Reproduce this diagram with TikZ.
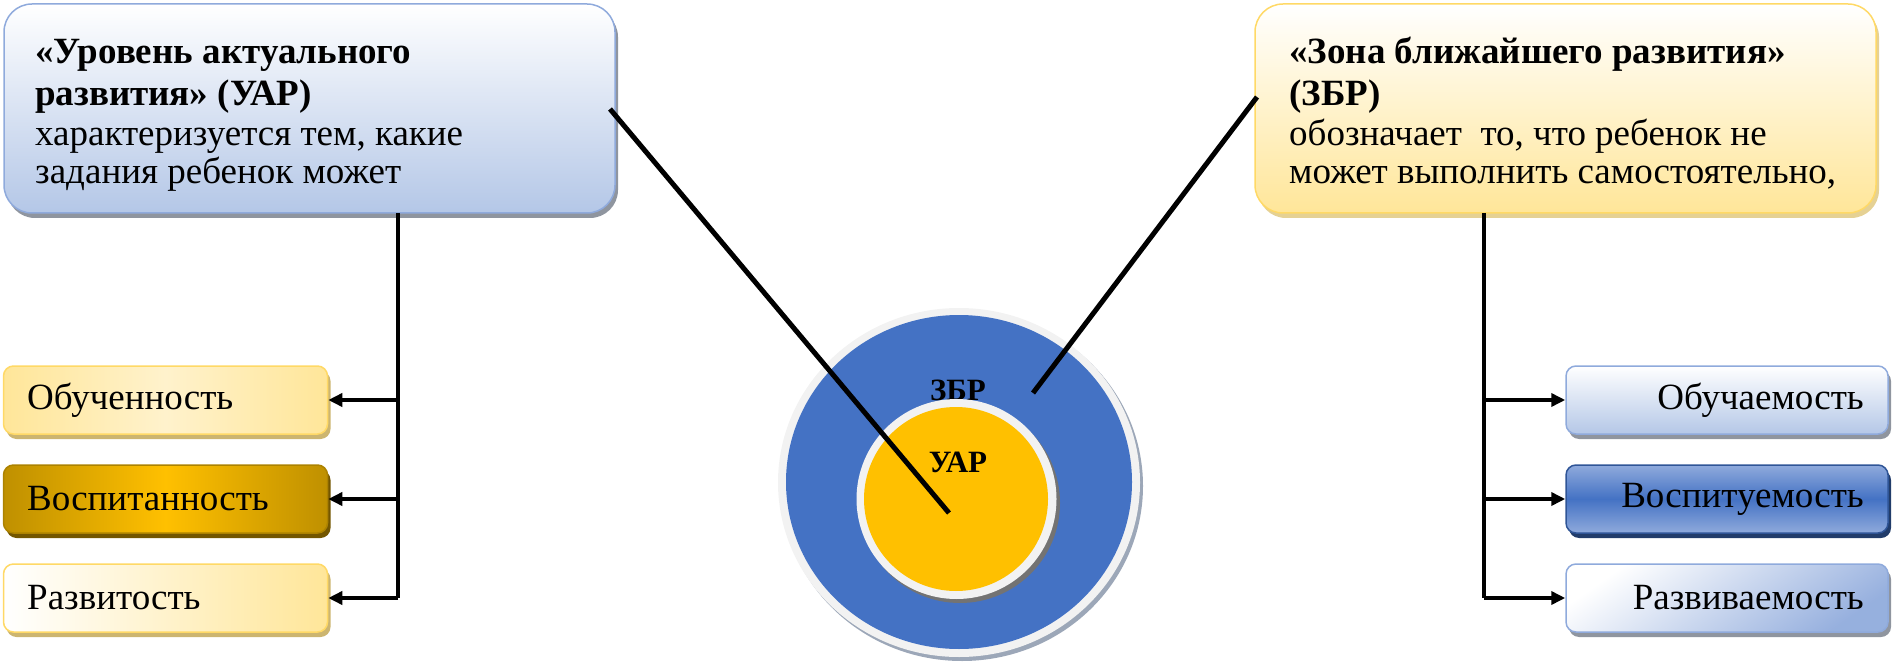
\documentclass[tikz,border=0pt]{standalone}
\usepackage{fontspec}
\setmainfont{Liberation Serif}
\usetikzlibrary{arrows.meta,shadows}
\definecolor{lblue}{HTML}{B4C7E7}
\definecolor{mblue}{HTML}{8FAADC}
\definecolor{dblue}{HTML}{4472C4}
\definecolor{nblue}{HTML}{2F5597}
\definecolor{lyel}{HTML}{FFE699}
\definecolor{pyel}{HTML}{FFF2CC}
\definecolor{myel}{HTML}{FFD966}
\definecolor{gold}{HTML}{FFC000}
\definecolor{dgold}{HTML}{BF9000}
\definecolor{ringgray}{HTML}{F2F2F2}
\begin{document}
\begin{tikzpicture}[x=1pt,y=-1pt,
  txt/.style={font=\fontsize{37}{40}\selectfont, inner sep=0pt},
  ttl/.style={font=\fontsize{37}{40}\selectfont\bfseries, inner sep=0pt},
  bigbox/.style={rounded corners=28pt, line width=1.5pt, minimum height=209pt},
  smallbox/.style={rounded corners=10pt, line width=1.5pt, minimum width=324pt, minimum height=68pt},
  shad/.style={drop shadow={shadow xshift=3pt, shadow yshift=-5pt, fill=#1, opacity=1}},
  conn/.style={line width=5pt, black},
  tree/.style={line width=3.5pt, black},
  arr/.style={line width=3.5pt, black, -{Triangle[length=14pt,width=13pt]}},
  circ/.style={font=\fontsize{31}{34}\selectfont\bfseries, inner sep=0pt}
]
\useasboundingbox (0,0) rectangle (1892,663);

% top boxes
\node[bigbox, minimum width=611pt, draw=mblue, top color=white, bottom color=lblue, shad={gray!70!lblue}] (uar) at (309.5,108.5) {};
\node[bigbox, minimum width=621pt, draw=myel, top color=white, bottom color=lyel, shad={lyel!80!gray}] (zbr) at (1565.5,108.5) {};

\node[ttl, anchor=base west] (u1) at (35,64) {«Уровень актуального};
\node[ttl, anchor=base west] (u2) at (35,106) {развития» (УАР)};
\node[txt, anchor=base west] (u3) at (35,146) {характеризуется тем, какие};
\node[txt, anchor=base west] (u4) at (35,184) {задания ребенок может};

\node[ttl, anchor=base west] (z1) at (1289,64) {«Зона ближайшего развития»};
\node[ttl, anchor=base west] (z2) at (1289,106) {(ЗБР)};
\node[txt, anchor=base west] (z3) at (1289,146) {обозначает\ \ то, что ребенок не};
\node[txt, anchor=base west] (z4) at (1289,184) {может выполнить самостоятельно,};

% left small boxes
\node[smallbox, draw=myel, left color=lyel, right color=lyel, middle color=pyel, shad={myel!60!gray}] (b1) at (165.5,400) {};
\node[smallbox, draw=dgold!90!black, left color=dgold, right color=dgold, middle color=gold, shad={dgold!60!black}] (b2) at (165.5,499) {};
\node[smallbox, draw=myel, left color=white, right color=lyel, shad={myel!60!gray}] (b3) at (165.5,598) {};
\node[txt, anchor=west] (b1t) at (27,400) {Обученность};
\node[txt, anchor=west] (b2t) at (27,499) {Воспитанность};
\node[txt, anchor=west] (b3t) at (27,598) {Развитость};

% right small boxes
\node[smallbox, minimum width=322pt, draw=mblue, top color=white, bottom color=lblue, shad={gray!70!lblue}] (c1) at (1727,400) {};
\node[smallbox, minimum width=322pt, draw=nblue, top color=mblue, bottom color=mblue, middle color=dblue, shad={nblue!70!black}] (c2) at (1727,499) {};
\node[smallbox, minimum width=322pt, draw=mblue, top color=white, bottom color=mblue!80!lblue, shading angle=35, shad={gray!70!lblue}] (c3) at (1727,598) {};
\node[txt, anchor=east] (c1t) at (1864,400) {Обучаемость};
\node[txt, anchor=east] (c2t) at (1864,499) {Воспитуемость};
\node[txt, anchor=east] (c3t) at (1864,598) {Развиваемость};

% tree connectors
\coordinate (lt) at (398,213);
\coordinate (l1) at (398,400);
\coordinate (l2) at (398,499);
\coordinate (l3) at (398,598);
\draw[tree] (lt) -- (l3);
\draw[arr] (l1) -- (b1.east);
\draw[arr] (l2) -- (b2.east);
\draw[arr] (l3) -- (b3.east);

\coordinate (rt) at (1484,213);
\coordinate (r1) at (1484,400);
\coordinate (r2) at (1484,499);
\coordinate (r3) at (1484,598);
\draw[tree] (rt) -- (r3);
\draw[arr] (r1) -- (c1.west);
\draw[arr] (r2) -- (c2.west);
\draw[arr] (r3) -- (c3.west);

% circles
\fill[gray!45!lblue] (962,486) ellipse [x radius=181pt, y radius=175pt];
\fill[ringgray] (959,482.5) ellipse [x radius=181pt, y radius=174.5pt];
\fill[dblue] (959,482) ellipse [x radius=173pt, y radius=167pt];
\node[circ] (zl) at (958,390) {ЗБР};
\fill[black!55] (960,503) circle [radius=100pt];
\fill[ringgray] (956.5,499) circle [radius=100pt];
\fill[gold] (956,499) circle [radius=92pt];
\node[circ] (ul) at (958,462) {УАР};

% long connectors
\coordinate (p1) at (610,109);
\coordinate (p2) at (949,513);
\coordinate (q1) at (1257,97);
\coordinate (q2) at (1033,393);
\draw[conn] (p1) -- (p2);
\draw[conn] (q1) -- (q2);
\end{tikzpicture}
\end{document}
